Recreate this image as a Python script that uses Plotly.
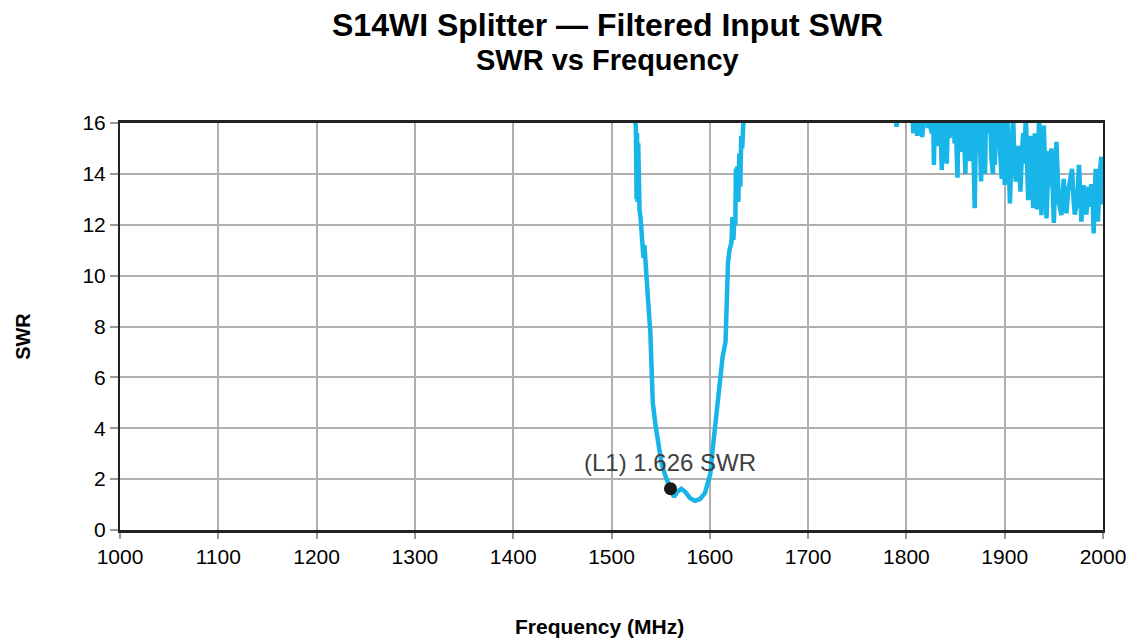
import plotly.graph_objects as go

# Left skirt of the passband (MHz, SWR)
left_freq = [1520, 1524, 1524.8, 1525.5, 1526, 1526.6, 1527.2, 1527.6, 1528.5, 1529.5, 1530.5,
             1531.5, 1532.5, 1533.5, 1534.5, 1535.5, 1536.5, 1537.5, 1538.5, 1539.5, 1540,
             1540.5, 1542, 1545, 1548, 1551, 1555, 1558]
left_swr = [18.0, 16.2, 15.8, 13.0, 15.6, 12.9, 15.2, 12.8, 12.6, 12.3, 11.8,
            11.2, 10.7, 11.2, 10.5, 9.9, 9.2, 8.5, 8.3, 7.8, 7.0,
            6.0, 5.0, 4.06, 3.2, 2.6, 2.1, 1.8]

# Passband bottom
mid_freq = [1560, 1563.5, 1567, 1571, 1575, 1580, 1585, 1590, 1595, 1598, 1600.5,
            1603, 1605, 1607.5, 1610, 1613, 1616]
mid_swr = [1.626, 1.3, 1.5, 1.62, 1.5, 1.25, 1.15, 1.22, 1.45, 1.8, 2.2,
           3.2, 4.0, 4.8, 5.8, 6.8, 7.4]

# Right skirt
right_freq = [1617.5, 1618.5, 1620, 1622, 1623, 1624, 1625, 1626, 1626.5, 1627, 1628,
              1629, 1630, 1631, 1632, 1633, 1634, 1636, 1640]
right_swr = [9.5, 10.5, 11.0, 11.3, 12.3, 11.4, 12.2, 12.0, 14.2, 13.0, 14.3,
             12.9, 14.8, 13.5, 15.5, 15.0, 15.9, 16.5, 18.0]

# Noisy high-frequency stopband
noise_freq = [1785, 1789, 1790, 1791, 1795, 1806, 1807, 1809, 1811, 1813, 1816, 1818,
              1820, 1822, 1823, 1824, 1826, 1827, 1828, 1829, 1830, 1831, 1832, 1833,
              1834, 1835, 1836, 1837, 1838, 1839.5, 1841, 1842.5, 1844, 1845,
              1846, 1847, 1848, 1849, 1850, 1851, 1852, 1853, 1854, 1855, 1856, 1857,
              1858, 1859, 1860, 1861, 1862, 1863, 1864.5, 1866, 1867, 1868, 1869.5,
              1871, 1872, 1873, 1874, 1875, 1876, 1877, 1878, 1879, 1880, 1881, 1882,
              1883.5, 1885, 1886.5, 1888, 1889, 1890, 1891.5, 1893.5,
              1895, 1897, 1898.5, 1900, 1901, 1902.5, 1904, 1905.3, 1907, 1908.6, 1910,
              1911.3, 1913.7, 1915, 1916, 1917.5, 1918.8, 1920, 1921.5, 1923, 1923.9, 1926,
              1927.5, 1929, 1930.6, 1932, 1933, 1935, 1936, 1937.4, 1939.8, 1941, 1942.5,
              1945, 1946.5, 1947.5, 1950, 1952.6, 1954, 1955, 1957.7, 1960, 1961.5, 1962.8,
              1964.5, 1966.2, 1968.5, 1970, 1971.3, 1973.6, 1975.6, 1977, 1978, 1980.4,
              1982, 1983, 1985.5, 1987, 1988.1, 1989.5, 1990.5, 1992.5, 1993.5, 1994.9,
              1996.6, 1998.3, 1999.2, 2000]
noise_swr = [17.0, 16.3, 15.85, 16.3, 17.0, 16.5, 15.6, 16.2, 15.5, 16.3, 15.45, 16.3,
             17.0, 15.8, 16.6, 15.9, 15.6, 16.8, 14.35, 16.2, 17.0, 15.3, 15.1, 16.6,
             17.0, 15.5, 14.15, 16.1, 16.5, 15.2, 14.4, 16.3, 15.4, 16.8,
             17.0, 15.7, 16.5, 15.2, 17.0, 15.0, 13.85, 16.4, 17.0, 15.4, 14.87, 16.2,
             16.5, 15.1, 14.0, 16.0, 17.0, 15.3, 14.5, 16.4, 17.0, 15.2, 12.65,
             16.2, 15.4, 16.6, 17.0, 15.0, 13.7, 15.9, 16.5, 15.2, 14.0, 16.4, 17.0,
             15.6, 16.5, 14.6, 14.0, 16.2, 14.35, 17.0, 16.2,
             15.0, 13.8, 16.5, 13.56, 15.2, 16.5, 14.6, 12.84, 15.0, 16.3, 14.3,
             13.7, 15.1, 14.0, 13.3, 14.8, 15.6, 14.4, 16.3, 14.2, 12.97, 15.5,
             13.9, 12.65, 15.6, 13.8, 12.6, 16.3, 14.4, 12.38, 15.9, 13.6, 12.25,
             14.9, 13.5, 15.0, 12.07, 15.26, 13.4, 12.9, 12.38, 13.8, 12.9, 12.45,
             13.3, 13.7, 14.2, 13.0, 12.4, 12.9, 14.35, 13.1, 12.12, 13.56,
             12.8, 12.4, 13.5, 12.7, 13.6, 12.9, 11.66, 14.2, 12.9, 12.12,
             14.0, 14.67, 12.8, 13.3]

marker_freq = [1560]
marker_swr = [1.626]
marker_label = "(L1) 1.626 SWR"

x_ticks = [1000, 1100, 1200, 1300, 1400, 1500, 1600, 1700, 1800, 1900, 2000]
y_ticks = [0, 2, 4, 6, 8, 10, 12, 14, 16]

line_color = "#17b5e8"
font_family = "Liberation Sans, Arial, sans-serif"

fig = go.Figure()
fig.add_trace(go.Scatter(
    x=left_freq + mid_freq + right_freq + [None] + noise_freq,
    y=left_swr + mid_swr + right_swr + [None] + noise_swr,
    mode="lines", line=dict(color=line_color, width=4.5), connectgaps=False,
    hoverinfo="x+y", showlegend=False))
fig.add_trace(go.Scatter(
    x=marker_freq, y=marker_swr, mode="markers",
    marker=dict(color="#1a1a1a", size=13), showlegend=False))

fig.add_annotation(x=marker_freq[0], y=2.67, xref="x", yref="y", text=marker_label,
                   showarrow=False, font=dict(family=font_family, size=24, color="#404040"),
                   xanchor="center", yanchor="middle")

fig.add_annotation(x=0.4964, y=1.2408, xref="paper", yref="paper",
                   text="<b>S14WI Splitter — Filtered Input SWR</b>", showarrow=False,
                   font=dict(family=font_family, size=32, color="black"),
                   xanchor="center", yanchor="middle")
fig.add_annotation(x=0.4964, y=1.1548, xref="paper", yref="paper",
                   text="<b>SWR vs Frequency</b>", showarrow=False,
                   font=dict(family=font_family, size=29, color="black"),
                   xanchor="center", yanchor="middle")
fig.add_annotation(x=0.4878, y=-0.2359, xref="paper", yref="paper",
                   text="<b>Frequency (MHz)</b>", showarrow=False,
                   font=dict(family=font_family, size=21, color="black"),
                   xanchor="center", yanchor="middle")
fig.add_annotation(x=-0.0995, y=0.475, xref="paper", yref="paper",
                   text="<b>SWR</b>", showarrow=False, textangle=-90,
                   font=dict(family=font_family, size=20, color="black"),
                   xanchor="center", yanchor="middle")

fig.update_layout(
    width=1138, height=638,
    margin=dict(l=120, r=33, t=123, b=108),
    paper_bgcolor="white", plot_bgcolor="white",
    font=dict(family=font_family, size=21, color="black"),
)
fig.update_xaxes(
    range=[1000, 2000], tickvals=x_ticks, ticktext=[str(v) for v in x_ticks],
    showgrid=True, gridcolor="#b0b0b0", gridwidth=1.5,
    showline=True, linecolor="#222222", linewidth=3, mirror=True,
    ticks="outside", ticklen=6, tickcolor="#999999", tickwidth=1.5,
    zeroline=False, tickfont=dict(size=21))
fig.update_yaxes(
    range=[0, 16], tickvals=y_ticks, ticktext=[str(v) for v in y_ticks],
    showgrid=True, gridcolor="#b0b0b0", gridwidth=1.5,
    showline=True, linecolor="#222222", linewidth=2, mirror=True,
    ticks="outside", ticklen=8, tickcolor="#999999", tickwidth=1.5,
    zeroline=False, tickfont=dict(size=21))

fig.write_html("out.html", config={"displayModeBar": False},
               post_script="document.body.style.margin='0';document.body.style.overflow='hidden';")
